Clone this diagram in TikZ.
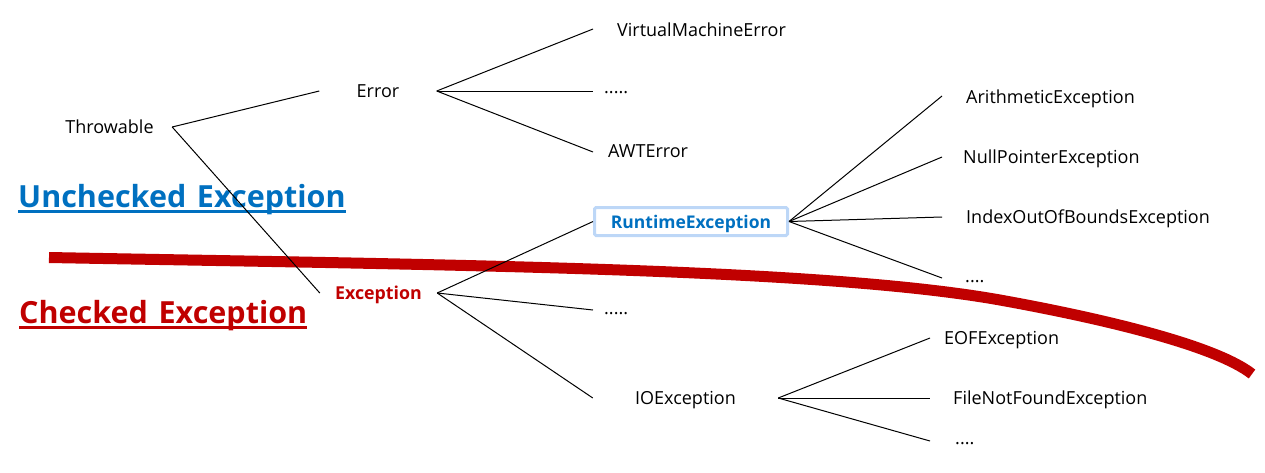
\documentclass[tikz,border=0pt]{standalone}
\usepackage{fontspec}
\setmainfont{Open Sans}
\definecolor{ublue}{RGB}{0,112,192}
\definecolor{cred}{RGB}{192,0,0}
\definecolor{rtborder}{RGB}{189,215,247}
\begin{document}
\begin{tikzpicture}[x=1pt,y=-1pt,
  txt/.style={font=\fontsize{18}{21}\selectfont, inner sep=0pt, text height=13pt, text depth=0pt},
  leaf/.style={txt, anchor=west},
  par/.style={txt, anchor=center},
  conn/.style={black, line width=1pt},
  big/.style={anchor=base west, inner sep=0pt, font=\bfseries\fontsize{30.5}{36}\selectfont},
  rtbox/.style={txt, draw=rtborder, line width=3pt, rounded corners=1.5pt,
    minimum width=193pt, minimum height=28pt, text=ublue, font=\bfseries\fontsize{17.5}{20}\selectfont}
]
\useasboundingbox (0,0) rectangle (1265,472);

% red divider
\draw[cred, line width=11pt] (49,257.5) .. controls (450,265) and (820,268) .. (1000,300)
  .. controls (1100,318) and (1215,345) .. (1252,374);

% labels
\node[big, text=ublue] (unc) at (18,207.3) {Unchecked\hspace{0.35em}Exception};
\draw[ublue, line width=3pt] ([yshift=-4pt]unc.base west) -- ([yshift=-4pt]unc.base east);
\node[big, text=cred] (chk) at (19,323) {Checked\hspace{0.35em}Exception};
\draw[cred, line width=3pt] ([yshift=-4.5pt]chk.base west) -- ([yshift=-4.5pt]chk.base east);

% tree
\node[par, minimum width=125pt] (thr) at (109.5,127) {Throwable};
\node[par, minimum width=117pt] (err) at (378,91) {Error};
\node[par, minimum width=117pt, text=cred, font=\bfseries\fontsize{17.8}{20}\selectfont] (exc) at (378.5,293) {Exception};

\node[leaf] (vme) at (617,30) {VirtualMachineError};
\node[leaf] (ed) at (604,87) {.....};
\node[leaf] (awt) at (608,151) {AWTError};

\node[rtbox] (rte) at (691,221.5) {RuntimeException};
\node[leaf] (ed2) at (604,308) {.....};
\node[par, minimum width=185pt] (ioe) at (685.5,398) {IOException};

\node[leaf] (ari) at (966,97) {ArithmeticException};
\node[leaf] (nul) at (963,157) {NullPointerException};
\node[leaf] (idx) at (966,217) {IndexOutOfBoundsException};
\node[leaf] (rd) at (965,276) {....};

\node[leaf] (eof) at (944,338) {EOFException};
\node[leaf] (fnf) at (953,398) {FileNotFoundException};
\node[leaf] (iod) at (955,438) {....};

\draw[conn] (thr.east) -- (err.west);
\draw[conn] (thr.east) -- (exc.west);

\draw[conn] (err.east) -- ([xshift=-24pt,yshift=1pt]vme.west);
\draw[conn] (err.east) -- ([xshift=-11pt,yshift=-4pt]ed.west);
\draw[conn] (err.east) -- ([xshift=-15pt,yshift=-1pt]awt.west);

\draw[conn] (exc.east) -- (rte.west);
\draw[conn] (exc.east) -- ([xshift=-11pt,yshift=-2pt]ed2.west);
\draw[conn] (exc.east) -- (ioe.west);

\draw[conn] (rte.east) -- ([xshift=-24pt,yshift=1pt]ari.west);
\draw[conn] (rte.east) -- ([xshift=-21pt]nul.west);
\draw[conn] (rte.east) -- ([xshift=-24pt]idx.west);
\draw[conn] (rte.east) -- ([xshift=-23pt,yshift=-2pt]rd.west);

\draw[conn] (ioe.east) -- ([xshift=-14pt]eof.west);
\draw[conn] (ioe.east) -- ([xshift=-23pt]fnf.west);
\draw[conn] (ioe.east) -- ([xshift=-25pt,yshift=-3pt]iod.west);
\end{tikzpicture}
\end{document}
